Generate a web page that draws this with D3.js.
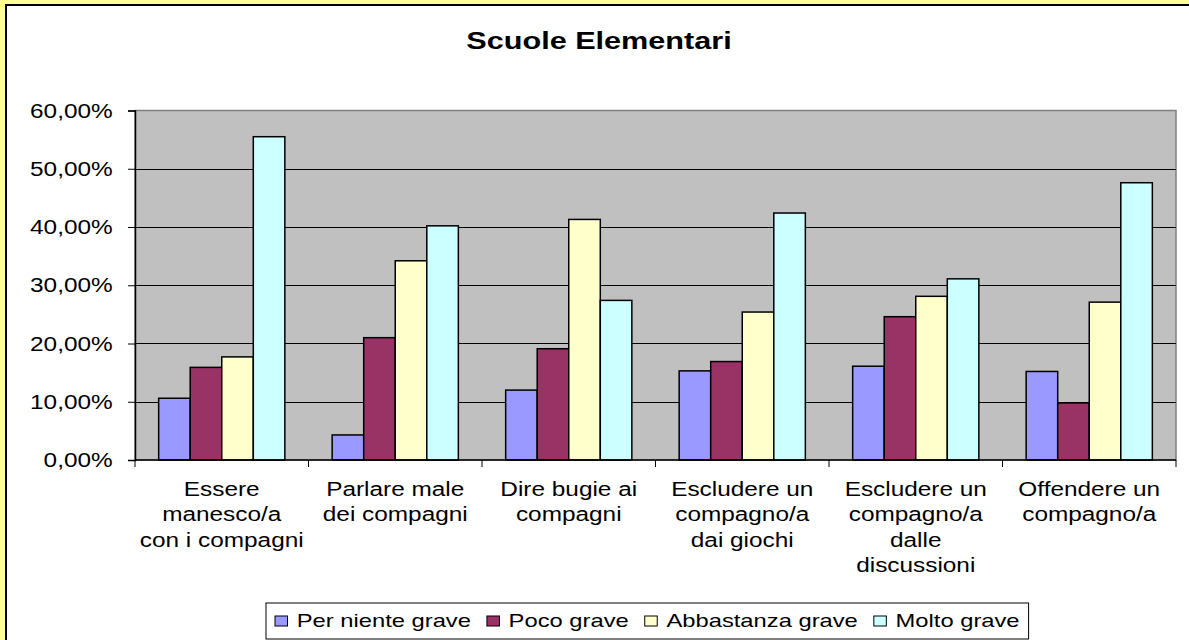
<!DOCTYPE html>
<html>
<head>
<meta charset="utf-8">
<script src="https://cdn.jsdelivr.net/npm/d3@7"></script>
<style>
  html, body { margin: 0; padding: 0; background: #FFFF99; overflow: hidden; }
  text { font-family: "Liberation Sans", Arial, sans-serif; fill: #000; }
</style>
</head>
<body>
<svg id="chart" width="1189" height="640"></svg>
<script>
// categories (line breaks as in the original labels)
var categories = [
  "Essere\nmanesco/a\ncon i compagni",
  "Parlare male\ndei compagni",
  "Dire bugie ai\ncompagni",
  "Escludere un\ncompagno/a\ndai giochi",
  "Escludere un\ncompagno/a\ndalle\ndiscussioni",
  "Offendere un\ncompagno/a"
];
var seriesNames = ["Per niente grave", "Poco grave", "Abbastanza grave", "Molto grave"];
var seriesColors = ["#9999FF", "#993366", "#FFFFCC", "#CCFFFF"];

var perNiente   = [0.106, 0.043, 0.120, 0.153, 0.161, 0.152];
var poco        = [0.159, 0.210, 0.191, 0.169, 0.246, 0.098];
var abbastanza  = [0.177, 0.342, 0.413, 0.254, 0.281, 0.271];
var molto       = [0.555, 0.402, 0.274, 0.424, 0.311, 0.476];
var yTicks = [0, 0.1, 0.2, 0.3, 0.4, 0.5, 0.6];

var title = "Scuole Elementari";

var seriesValues = [perNiente, poco, abbastanza, molto];
var sx = 1.25; // the original picture is stretched horizontally

var svg = d3.select("#chart");

// white chart area with black frame
svg.append("rect")
  .attr("x", 6).attr("y", 5)
  .attr("width", 1400).attr("height", 1000)
  .attr("fill", "#fff")
  .attr("stroke", "#000")
  .attr("stroke-width", 2);

var plot = {left: 135, right: 1176, top: 110.5, bottom: 460};

var x0 = d3.scaleBand()
  .domain(d3.range(categories.length))
  .range([plot.left, plot.right])
  .paddingInner(0).paddingOuter(0);

var x1 = d3.scaleBand()
  .domain(d3.range(seriesNames.length))
  .range([0, x0.bandwidth()])
  .paddingInner(0).paddingOuter(0.75);

var y = d3.scaleLinear()
  .domain([0, 0.6])
  .range([plot.bottom, plot.top]);

var it = d3.formatLocale({decimal: ",", thousands: ".", grouping: [3], currency: ["", "€"]});
var fmt = it.format(".2%");

// plot background
svg.append("rect")
  .attr("x", plot.left).attr("y", plot.top)
  .attr("width", plot.right - plot.left)
  .attr("height", plot.bottom - plot.top)
  .attr("fill", "#C0C0C0")
  .attr("stroke", "#808080")
  .attr("stroke-width", 1.5);

// gridlines
svg.append("g")
  .selectAll("line")
  .data(yTicks.slice(1, -1))
  .enter().append("line")
    .attr("x1", plot.left).attr("x2", plot.right)
    .attr("y1", d => Math.round(y(d)) + 0.5)
    .attr("y2", d => Math.round(y(d)) + 0.5)
    .attr("stroke", "#000")
    .attr("stroke-width", 1);

// bars
var bars = svg.append("g");
seriesValues.forEach(function(vals, s) {
  bars.selectAll(".s" + s)
    .data(vals)
    .enter().append("rect")
      .attr("class", "s" + s)
      .attr("x", (d, i) => x0(i) + x1(s))
      .attr("y", d => y(d))
      .attr("width", x1.bandwidth())
      .attr("height", d => y(0) - y(d))
      .attr("fill", seriesColors[s])
      .attr("stroke", "#000")
      .attr("stroke-width", 1.5);
});

// y axis
var yAxis = d3.axisLeft(y)
  .tickValues(yTicks)
  .tickSize(7)
  .tickFormat(fmt);

var yg = svg.append("g")
  .attr("transform", "translate(" + plot.left + ",0)")
  .call(yAxis);
yg.select(".domain").attr("stroke", "#000").attr("stroke-width", 1.5);
yg.selectAll(".tick line").attr("stroke", "#000");
yg.selectAll(".tick text")
  .attr("x", -22.3 / sx)
  .attr("dy", "0.34em")
  .attr("transform", "scale(" + sx + ",1)")
  .style("font-size", "19.5px")
  .style("font-family", "'Liberation Sans', Arial, sans-serif")
  .attr("fill", "#000");

// x axis line and boundary ticks
svg.append("line")
  .attr("x1", plot.left).attr("x2", plot.right)
  .attr("y1", plot.bottom).attr("y2", plot.bottom)
  .attr("stroke", "#000").attr("stroke-width", 1.5);

var bounds = categories.map((c, i) => x0(i)).concat([plot.right]);
svg.append("g")
  .selectAll("line")
  .data(bounds)
  .enter().append("line")
    .attr("x1", d => d).attr("x2", d => d)
    .attr("y1", plot.bottom).attr("y2", plot.bottom + 7)
    .attr("stroke", "#000").attr("stroke-width", 1);

// x labels
var xl = svg.append("g")
  .selectAll("g")
  .data(categories)
  .enter().append("g")
    .attr("transform", (d, i) => "translate(" + (x0(i) + x0.bandwidth() / 2) + ",496) scale(" + sx + ",1)");
xl.append("text")
  .attr("text-anchor", "middle")
  .style("font-size", "19.5px")
  .selectAll("tspan")
  .data(d => d.split("\n"))
  .enter().append("tspan")
    .attr("x", 0)
    .attr("y", (d, i) => i * 25.3)
    .text(d => d);

// title
svg.append("text")
  .attr("transform", "translate(599,49.3) scale(" + sx + ",1)")
  .attr("text-anchor", "middle")
  .style("font-size", "24.5px")
  .style("font-weight", "bold")
  .text(title);

// legend
var leg = svg.append("g");
var legBox = leg.append("rect")
  .attr("y", 603).attr("height", 36)
  .attr("fill", "#fff")
  .attr("stroke", "#000").attr("stroke-width", 1);

var lx = 275;
seriesNames.forEach(function(name, s) {
  leg.append("rect")
    .attr("x", lx).attr("y", 616)
    .attr("width", 12.5).attr("height", 10)
    .attr("fill", seriesColors[s])
    .attr("stroke", "#000").attr("stroke-width", 1);
  var t = leg.append("text")
    .attr("transform", "translate(" + (lx + 21.7) + ",626.5) scale(" + sx + ",1)")
    .style("font-size", "19px")
    .text(name);
  var w = t.node().getComputedTextLength() * sx;
  lx += 21.7 + w + 16;
});
legBox.attr("x", 266).attr("width", lx - 16 + 9 - 266);
</script>
</body>
</html>
